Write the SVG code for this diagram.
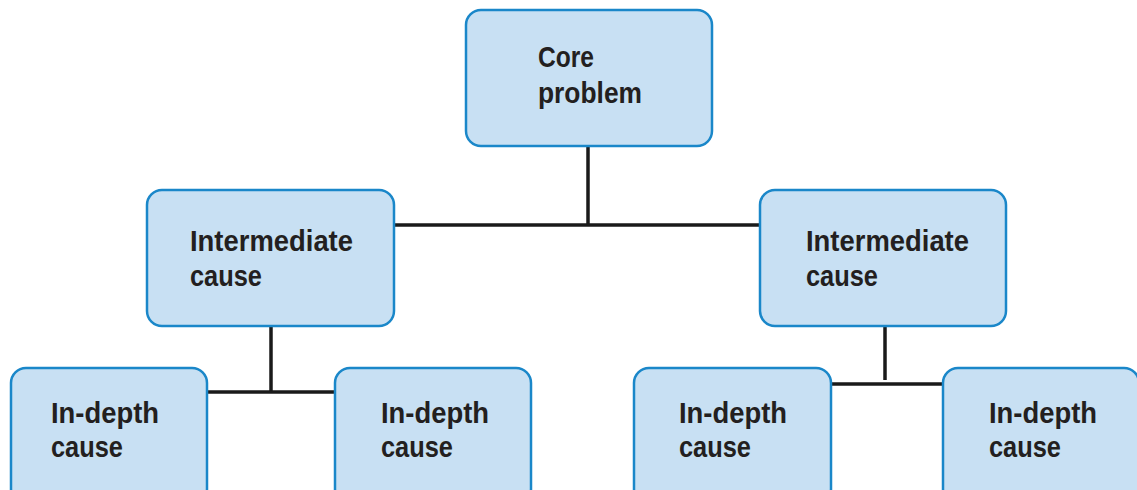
<svg xmlns="http://www.w3.org/2000/svg" width="1137" height="490" viewBox="0 0 1137 490">
<style>
.box{fill:#c8e0f3;stroke:#1a87c9;stroke-width:2.5}
.t{font-family:"Liberation Sans",Arial,sans-serif;font-weight:bold;font-size:30px;fill:#231f20}
.ln{stroke:#1a1a1a;stroke-width:3.5;fill:none}
</style>
<rect width="1137" height="490" fill="#ffffff"/>
<g id="connectors">
<line class="ln" x1="588" y1="146" x2="588" y2="225"/>
<line class="ln" x1="394" y1="225" x2="760" y2="225"/>
<line class="ln" x1="271" y1="326" x2="271" y2="392"/>
<line class="ln" x1="207" y1="392" x2="335" y2="392"/>
<line class="ln" x1="885" y1="326" x2="885" y2="380"/>
<line class="ln" x1="831" y1="384" x2="943" y2="384"/>
</g>
<g id="core">
<rect class="box" x="466" y="10" width="246" height="136" rx="15"/>
<text class="t" x="538" y="67" textLength="56" lengthAdjust="spacingAndGlyphs">Core</text>
<text class="t" x="538" y="103" textLength="104" lengthAdjust="spacingAndGlyphs">problem</text>
</g>
<g id="inter-left">
<rect class="box" x="147" y="190" width="247" height="136" rx="15"/>
<text class="t" x="190" y="251" textLength="163" lengthAdjust="spacingAndGlyphs">Intermediate</text>
<text class="t" x="190" y="286" textLength="72" lengthAdjust="spacingAndGlyphs">cause</text>
</g>
<g id="inter-right">
<rect class="box" x="760" y="190" width="246" height="136" rx="15"/>
<text class="t" x="806" y="251" textLength="163" lengthAdjust="spacingAndGlyphs">Intermediate</text>
<text class="t" x="806" y="286" textLength="72" lengthAdjust="spacingAndGlyphs">cause</text>
</g>
<g id="depth-1">
<rect class="box" x="11" y="368" width="196" height="136" rx="15"/>
<text class="t" x="51" y="423" textLength="108" lengthAdjust="spacingAndGlyphs">In-depth</text>
<text class="t" x="51" y="457" textLength="72" lengthAdjust="spacingAndGlyphs">cause</text>
</g>
<g id="depth-2">
<rect class="box" x="335" y="368" width="196" height="136" rx="15"/>
<text class="t" x="381" y="423" textLength="108" lengthAdjust="spacingAndGlyphs">In-depth</text>
<text class="t" x="381" y="457" textLength="72" lengthAdjust="spacingAndGlyphs">cause</text>
</g>
<g id="depth-3">
<rect class="box" x="634" y="368" width="197" height="136" rx="15"/>
<text class="t" x="679" y="423" textLength="108" lengthAdjust="spacingAndGlyphs">In-depth</text>
<text class="t" x="679" y="457" textLength="72" lengthAdjust="spacingAndGlyphs">cause</text>
</g>
<g id="depth-4">
<rect class="box" x="943" y="368" width="196" height="136" rx="15"/>
<text class="t" x="989" y="423" textLength="108" lengthAdjust="spacingAndGlyphs">In-depth</text>
<text class="t" x="989" y="457" textLength="72" lengthAdjust="spacingAndGlyphs">cause</text>
</g>
</svg>
